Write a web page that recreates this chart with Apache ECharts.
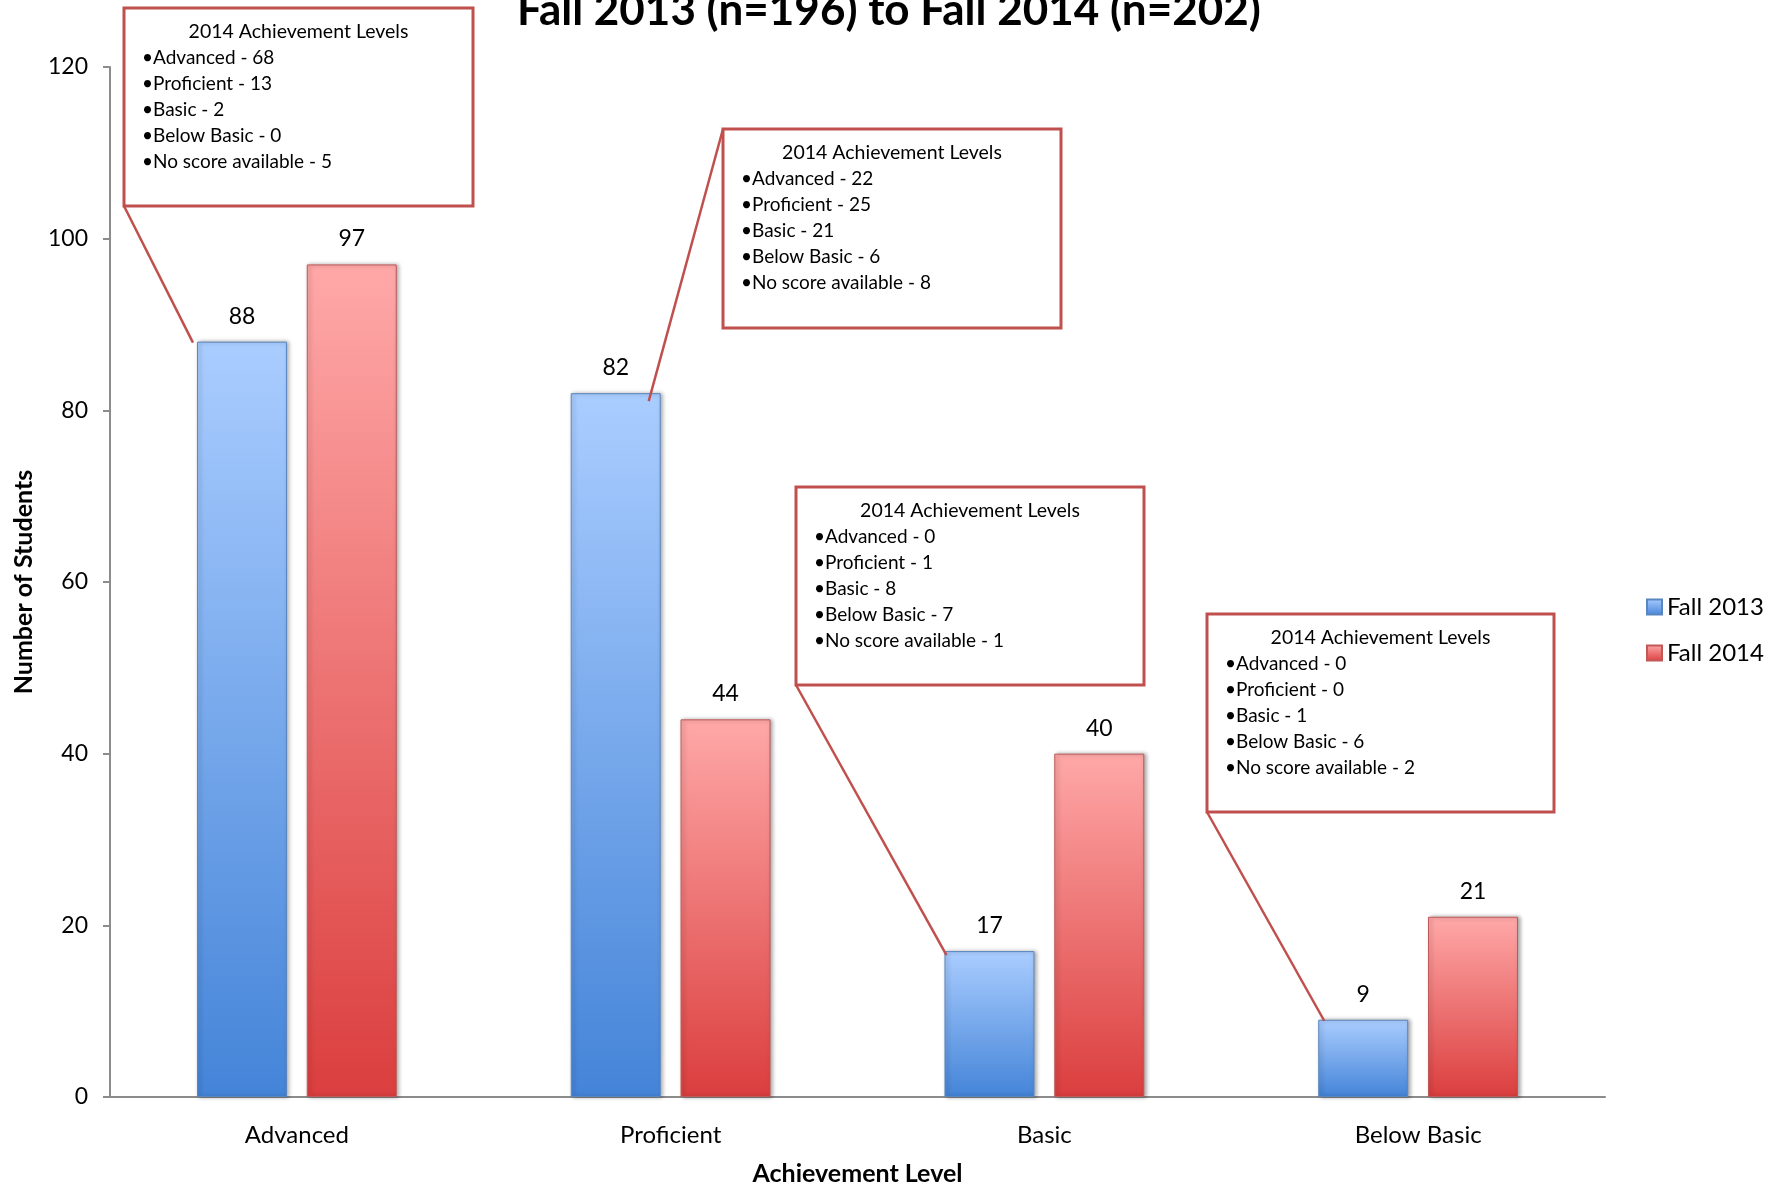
<!DOCTYPE html>
<html>
<head>
<meta charset="utf-8">
<script src="https://cdn.jsdelivr.net/npm/echarts@6/dist/echarts.min.js"></script>
<style>
  html, body { margin: 0; padding: 0; background: #fff; }
  #main { width: 1780px; height: 1191px; }
</style>
</head>
<body>
<div id="main"></div>
<script>
// data
var categories = ['Advanced', 'Proficient', 'Basic', 'Below Basic'];
var fall2013 = [88, 82, 17, 9];
var fall2014 = [97, 44, 40, 21];
var calloutTitle = '2014 Achievement Levels';
var calloutLevels = ['Advanced', 'Proficient', 'Basic', 'Below Basic', 'No score available'];
var calloutCounts = [
    [68, 13, 2, 0, 5],
    [22, 25, 21, 6, 8],
    [0, 1, 8, 7, 1],
    [0, 0, 1, 6, 2]
];

// callout layout: box [x, y, w, h], which corner the leader leaves from, offset of leader end from bar top-left
var boxes = [
    { rect: [124, 8, 349, 198], from: 'bl', end: [-4, 1] },
    { rect: [723, 129, 338, 199], from: 'tl', end: [78, 8] },
    { rect: [796, 487, 348, 198], from: 'bl', end: [2, 4] },
    { rect: [1207, 614, 347, 198], from: 'bl', end: [6, 1] }
];

var FONT = 'Lato, "Open Sans", sans-serif';
var RED_LINE = '#c0504d';

var blueFill = new echarts.graphic.LinearGradient(0, 0, 0, 1, [
    { offset: 0, color: '#aacdff' },
    { offset: 1, color: '#4484d8' }
]);
var redFill = new echarts.graphic.LinearGradient(0, 0, 0, 1, [
    { offset: 0, color: '#ffa8a8' },
    { offset: 1, color: '#db3e3e' }
]);

var chart = echarts.init(document.getElementById('main'));
var option = {
    animation: false,
    textStyle: { fontFamily: FONT },
    title: {
        text: 'Fall 2013 (n=196) to Fall 2014 (n=202)',
        left: 512,
        top: -16,
        textStyle: { fontSize: 44, fontWeight: 'bold', color: '#000', fontFamily: FONT }
    },
    legend: {
        orient: 'vertical',
        left: 1641,
        top: 590,
        itemWidth: 15,
        itemHeight: 15,
        itemGap: 22,
        icon: 'rect',
        textStyle: { fontSize: 24, color: '#000' },
        data: ['Fall 2013', 'Fall 2014']
    },
    grid: {
        left: 110,
        right: 175,
        top: 67,
        bottom: 89
    },
    xAxis: {
        type: 'category',
        data: categories,
        name: 'Achievement Level',
        nameLocation: 'middle',
        nameGap: 64,
        nameTextStyle: { fontSize: 25, fontWeight: 'bold', color: '#000' },
        axisLine: { lineStyle: { color: '#8c8c8c', width: 2 } },
        axisTick: { show: false },
        axisLabel: { fontSize: 24, color: '#000', margin: 26 }
    },
    yAxis: {
        type: 'value',
        min: 0,
        max: 120,
        interval: 20,
        name: 'Number of Students',
        nameLocation: 'middle',
        nameGap: 74,
        nameTextStyle: { fontSize: 25, fontWeight: 'bold', color: '#000' },
        axisLine: { show: true, lineStyle: { color: '#8c8c8c', width: 2 } },
        axisTick: { show: true, length: 7, lineStyle: { color: '#8c8c8c', width: 2 } },
        axisLabel: { fontSize: 23, color: '#000', margin: 22 },
        splitLine: { show: false }
    },
    series: [
        {
            name: 'Fall 2013',
            type: 'bar',
            data: fall2013,
            barWidth: 90,
            barGap: '22%',
            itemStyle: {
                color: blueFill,
                borderColor: '#5a86c0',
                borderWidth: 1,
                shadowColor: 'rgba(0,0,0,0.35)',
                shadowBlur: 4,
                shadowOffsetX: 2
            },
            label: { show: true, position: 'top', distance: 14, fontSize: 23, color: '#000' }
        },
        {
            name: 'Fall 2014',
            type: 'bar',
            data: fall2014,
            barWidth: 90,
            itemStyle: {
                color: redFill,
                borderColor: '#c05858',
                borderWidth: 1,
                shadowColor: 'rgba(0,0,0,0.35)',
                shadowBlur: 4,
                shadowOffsetX: 2
            },
            label: { show: true, position: 'top', distance: 14, fontSize: 23, color: '#000' }
        }
    ]
};
chart.setOption(option);

// callouts, leader lines end at the Fall 2013 bar tops
var barData = chart.getModel().getSeriesByIndex(0).getData();
var graphics = [];
boxes.forEach(function (b, i) {
    var lay = barData.getItemLayout(i);
    var barLeft = lay.x;
    var barTop = lay.y + Math.min(lay.height, 0);
    var r = b.rect;
    var sx = r[0];
    var sy = b.from === 'tl' ? r[1] : r[1] + r[3];
    graphics.push({
        type: 'line',
        z: 100,
        shape: { x1: sx, y1: sy, x2: barLeft + b.end[0], y2: barTop + b.end[1] },
        style: { stroke: RED_LINE, lineWidth: 2.5 }
    });
    graphics.push({
        type: 'rect',
        z: 100,
        shape: { x: r[0], y: r[1], width: r[2], height: r[3] },
        style: { fill: '#fff', stroke: RED_LINE, lineWidth: 3 }
    });
    graphics.push({
        type: 'text',
        z: 101,
        x: r[0] + r[2] / 2,
        y: r[1] + 24,
        style: {
            text: calloutTitle, fontSize: 19.5, fontFamily: FONT, fill: '#000',
            align: 'center', verticalAlign: 'middle'
        }
    });
    calloutLevels.forEach(function (lvl, k) {
        graphics.push({
            type: 'text',
            z: 101,
            x: r[0] + 18,
            y: r[1] + 50 + k * 26,
            style: {
                text: '\u2022' + lvl + ' - ' + calloutCounts[i][k],
                fontSize: 19, fontFamily: FONT, fill: '#000',
                align: 'left', verticalAlign: 'middle'
            }
        });
    });
});
chart.setOption({ graphic: graphics });
</script>
</body>
</html>
